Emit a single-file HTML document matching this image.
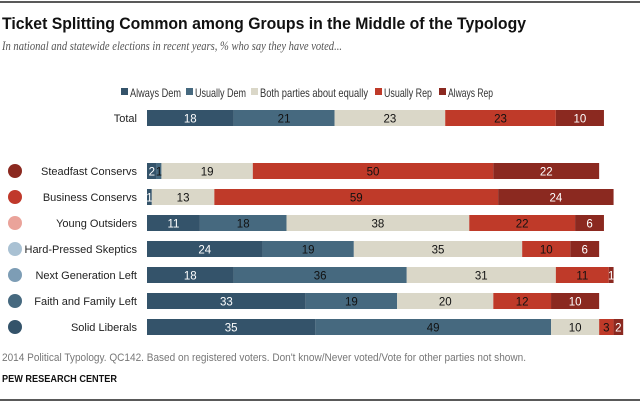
<!DOCTYPE html>
<html><head><meta charset="utf-8"><style>
body{margin:0;background:#fff;width:640px;height:403px;overflow:hidden}
svg{display:block;font-family:"Liberation Sans",sans-serif}
</style></head><body>
<svg id="chart" width="640" height="403">
<line x1="0" y1="2" x2="640" y2="2" stroke="#222" stroke-width="1.5"/>
<text x="2" y="29" font-size="17" font-weight="bold" fill="#111" textLength="524" lengthAdjust="spacingAndGlyphs">Ticket Splitting Common among Groups in the Middle of the Typology</text>
<text x="2" y="50" font-size="12.5" font-style="italic" fill="#555" font-family="Liberation Serif, serif" textLength="340" lengthAdjust="spacingAndGlyphs">In national and statewide elections in recent years, % who say they have voted...</text>
<g id="legend"></g>
<g id="rows"></g>
<text x="2" y="361" font-size="11" fill="#777" textLength="524" lengthAdjust="spacingAndGlyphs">2014 Political Typology. QC142. Based on registered voters. Don't know/Never voted/Vote for other parties not shown.</text>
<text x="2" y="382" font-size="10.5" font-weight="bold" fill="#111" textLength="115" lengthAdjust="spacingAndGlyphs">PEW RESEARCH CENTER</text>
<line x1="0" y1="400" x2="640" y2="400" stroke="#222" stroke-width="1.5"/>
</svg>
<script>
const categories=["Total","Steadfast Conservs","Business Conservs","Young Outsiders","Hard-Pressed Skeptics","Next Generation Left","Faith and Family Left","Solid Liberals"];
const seriesNames=["Always Dem","Usually Dem","Both parties about equally","Usually Rep","Always Rep"];
const alwaysDem=[18,2,1,11,24,18,33,35];
const usuallyDem=[21,1,0,18,19,36,19,49];
const bothEqual=[23,19,13,38,35,31,20,10];
const usuallyRep=[23,50,59,22,10,11,12,3];
const alwaysRep=[10,22,24,6,6,1,10,2];
const series=[alwaysDem,usuallyDem,bothEqual,usuallyRep,alwaysRep];
const colors=["#34536a","#46697f","#dad7c8","#bf3a29","#8b2920"];
const textColors=["#fff","#111","#111","#111","#fff"];
const dotColors=[null,"#8b2920","#c0392b","#eaa39a","#a9c1d3","#7d9db5","#46697f","#34536a"];
const NS="http://www.w3.org/2000/svg";
const x0=147,scale=4.81;
const xs=v=>v*scale;
const rowY=[118,171,197,223,249,275,301,327];
const barH=16;
const rows=document.getElementById('rows');
function mk(tag,attrs,parent){const e=document.createElementNS(NS,tag);for(const k in attrs)e.setAttribute(k,attrs[k]);parent.appendChild(e);return e;}
const legend=document.getElementById('legend');
const legX=[121,186,251,375,439];
const legW=[51,51,108,48,45];
seriesNames.forEach((n,i)=>{
  const g=mk('g',{},legend);
  
  
  mk('rect',{x:legX[i],y:88,width:7,height:7,fill:colors[i]},g);
  const t=mk('text',{x:legX[i]+9,y:97,'font-size':12,fill:'#333',textLength:legW[i],lengthAdjust:'spacingAndGlyphs'},g);
  t.textContent=n;
});
categories.forEach((c,r)=>{
  const y=rowY[r];
  const g=mk('g',{},rows);
  
  
  const lab=mk('text',{x:137,y:y+4,'font-size':11,fill:'#222','text-anchor':'end'},g);
  
  
  lab.textContent=c;
  if(dotColors[r]){
    const d=mk('circle',{cx:15,cy:y,r:7,fill:dotColors[r]},g);
    
    
  }
  let acc=0;
  series.forEach((s,i)=>{
    const v=s[r];
    if(v<=0)return;
    const bx=x0+xs(acc),w=xs(v);
    const b=mk('rect',{x:bx,y:y-barH/2,width:w,height:barH,fill:colors[i]},g);
    
    
    const t=mk('text',{x:bx+w/2,y:y+4.5,'font-size':11.5,fill:textColors[i],'text-anchor':'middle'},g);
    
    
    t.textContent=v;
    acc+=v;
  });
});
</script>
</body></html>
